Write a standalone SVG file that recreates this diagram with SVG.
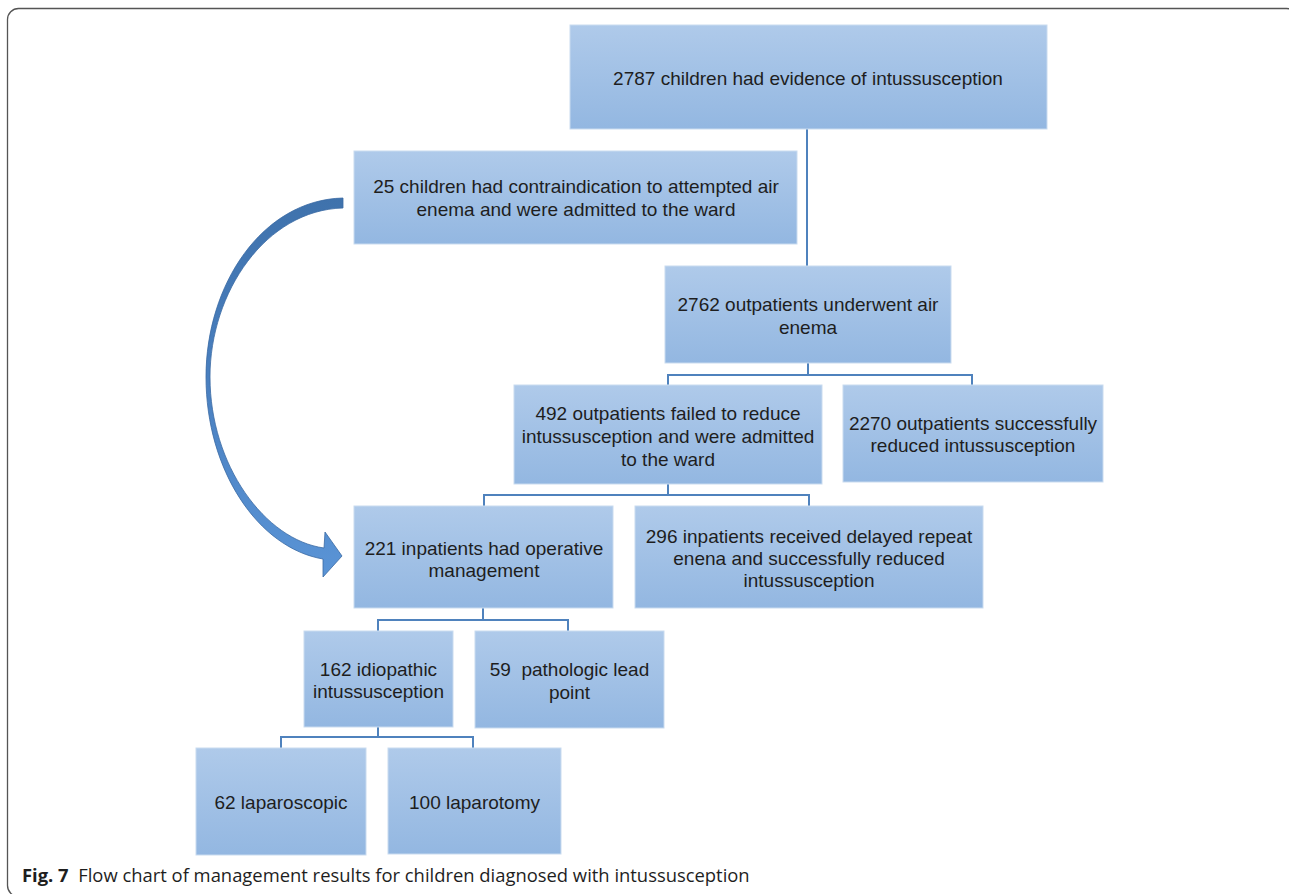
<svg xmlns="http://www.w3.org/2000/svg" width="1289" height="894" viewBox="0 0 1289 894">
  <defs>
    <linearGradient id="boxGrad" x1="0" y1="0" x2="0" y2="1">
      <stop offset="0" stop-color="#afcaea"/>
      <stop offset="1" stop-color="#93b7e1"/>
    </linearGradient>
    <linearGradient id="arrowGrad" x1="0" y1="0" x2="0" y2="1">
      <stop offset="0" stop-color="#3f72ac"/>
      <stop offset="0.5" stop-color="#4a80c0"/>
      <stop offset="1" stop-color="#5a94d6"/>
    </linearGradient>
    <style>
      .box { fill: url(#boxGrad); stroke: #c9dbef; stroke-width: 1; }
      .lbl { font-family: "Liberation Sans", Arial, Helvetica, sans-serif; font-size: 19px; fill: #1e1e1e; text-anchor: middle; }
      .conn { fill: none; stroke: #4f82bd; stroke-width: 2; }
      .cap { font-family: "Open Sans", "Noto Sans", sans-serif; font-size: 18.4px; fill: #1e1e1e; }
    </style>
  </defs>
  <rect x="0" y="0" width="1289" height="894" fill="#ffffff"/>
  <rect x="7.5" y="8.5" width="1290" height="888" rx="11" ry="11" fill="none" stroke="#555555" stroke-width="1.3"/>

  <g id="connectors">
    <path class="conn" d="M807,129 V266"/>
    <path class="conn" d="M808,363 V375 M668,375 H972 M668,374 V385 M972,374 V385"/>
    <path class="conn" d="M668,484 V495 M484,495 H809 M484,494 V506 M809,494 V506"/>
    <path class="conn" d="M483,608 V620 M378,620 H568 M378,619 V631 M568,619 V631"/>
    <path class="conn" d="M378,727 V737 M281,737 H473 M281,736 V748 M473,736 V748"/>
    <path id="curved-arrow" d="M343,198 C262,200 206,285 206,377 C206,470 258,548 323,559 L323,577 L342,556 L325,532 L324,548 C265,540 210,465 210,377 C210,292 266,210 343,208 Z" fill="url(#arrowGrad)" stroke="#3a6aa3" stroke-width="0.8"/>
  </g>

  <g id="n1">
    <rect class="box" x="570" y="25" width="477" height="104"/>
    <text class="lbl" x="808" y="85">2787 children had evidence of intussusception</text>
  </g>
  <g id="n2">
    <rect class="box" x="354" y="151" width="443" height="93"/>
    <text class="lbl" x="576" y="193">25 children had contraindication to attempted air</text>
    <text class="lbl" x="576" y="216">enema and were admitted to the ward</text>
  </g>
  <g id="n3">
    <rect class="box" x="665" y="266" width="286" height="97"/>
    <text class="lbl" x="808" y="311">2762 outpatients underwent air</text>
    <text class="lbl" x="808" y="334">enema</text>
  </g>
  <g id="n4">
    <rect class="box" x="514" y="385" width="308" height="99"/>
    <text class="lbl" x="668" y="420">492 outpatients failed to reduce</text>
    <text class="lbl" x="668" y="443">intussusception and were admitted</text>
    <text class="lbl" x="668" y="466">to the ward</text>
  </g>
  <g id="n5">
    <rect class="box" x="843" y="385" width="260" height="97"/>
    <text class="lbl" x="973" y="430">2270 outpatients successfully</text>
    <text class="lbl" x="973" y="452">reduced intussusception</text>
  </g>
  <g id="n6">
    <rect class="box" x="354" y="506" width="259" height="102"/>
    <text class="lbl" x="484" y="555">221 inpatients had operative</text>
    <text class="lbl" x="484" y="577">management</text>
  </g>
  <g id="n7">
    <rect class="box" x="635" y="506" width="348" height="102"/>
    <text class="lbl" x="809" y="543">296 inpatients received delayed repeat</text>
    <text class="lbl" x="809" y="565">enena and successfully reduced</text>
    <text class="lbl" x="809" y="587">intussusception</text>
  </g>
  <g id="n8">
    <rect class="box" x="304" y="631" width="149" height="96"/>
    <text class="lbl" x="378.5" y="676">162 idiopathic</text>
    <text class="lbl" x="378.5" y="698">intussusception</text>
  </g>
  <g id="n9">
    <rect class="box" x="475" y="631" width="189" height="97"/>
    <text class="lbl" x="569.5" y="676" xml:space="preserve">59  pathologic lead</text>
    <text class="lbl" x="569.5" y="699">point</text>
  </g>
  <g id="n10">
    <rect class="box" x="196" y="748" width="170" height="107"/>
    <text class="lbl" x="281" y="809">62 laparoscopic</text>
  </g>
  <g id="n11">
    <rect class="box" x="388" y="748" width="173" height="106"/>
    <text class="lbl" x="474.5" y="809">100 laparotomy</text>
  </g>

  <text class="cap" x="22" y="882" xml:space="preserve"><tspan font-weight="bold">Fig. 7</tspan>  Flow chart of management results for children diagnosed with intussusception</text>
</svg>
